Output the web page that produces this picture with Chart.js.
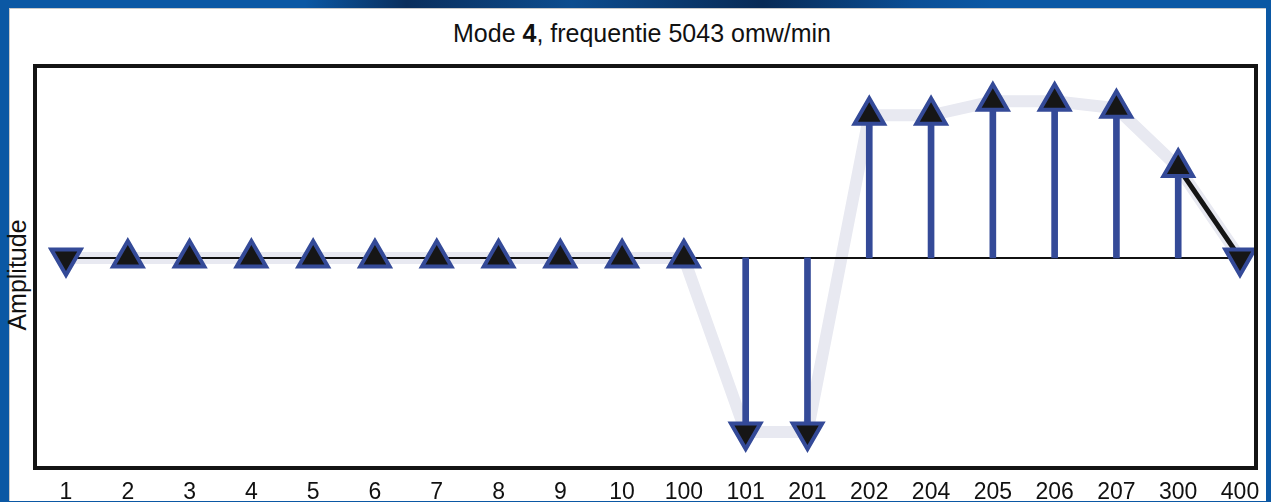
<!DOCTYPE html>
<html>
<head>
<meta charset="utf-8">
<script src="https://cdn.jsdelivr.net/npm/chart.js@4.4.1/dist/chart.umd.min.js"></script>
<style>
  html, body { margin: 0; padding: 0; }
  body { width: 1271px; height: 502px; position: relative; overflow: hidden;
         background: #0b58a4; font-family: "Liberation Sans", Arial, sans-serif; }
  #topband { position: absolute; left: 0; top: 0; width: 1271px; height: 8px;
             background: linear-gradient(90deg, #0b58a4 0%, #0b58a4 24%, #0a2e5c 32%, #0d4d8f 45%, #082a55 60%, #0b4f96 72%, #0b58a4 78%, #0b58a4 100%); }
  #panel { position: absolute; left: 9px; top: 8px; width: 1257px; height: 493px;
           background: #ffffff; box-shadow: inset 1px 1px 0 #c9c9c9; }
  #title { position: absolute; left: 0; width: 1284px; top: 21px; text-align: center;
           font-size: 25px; line-height: 25px; color: #111; white-space: nowrap; }
  #ylabel { position: absolute; left: 17px; top: 275px; font-size: 25px; line-height: 25px;
            color: #111; white-space: nowrap; transform: translate(-50%, -50%) rotate(-90deg); }
  #c { position: absolute; left: 0; top: 0; }
</style>
</head>
<body>
<div id="topband"></div>
<div id="panel"></div>
<div id="title">Mode <b>4</b>, frequentie 5043 omw/min</div>
<div id="ylabel">Amplitude</div>
<canvas id="c" width="1271" height="502"></canvas>
<script>
// ---- data ----
const categories = ['1','2','3','4','5','6','7','8','9','10','100','101','201','202','204','205','206','207','300','400'];
const amplitude  = [0, 0, 0, 0, 0, 0, 0, 0, 0, 0, 0, -1.0, -1.0, 0.82, 0.82, 0.90, 0.90, 0.86, 0.52, 0];
const direction  = ['down','up','up','up','up','up','up','up','up','up','up','down','down','up','up','up','up','up','up','down'];
const highlightSegment = ['300','400'];
const yMin = -1.207, yMax = 1.103;

// ---- derived ----
const baseline = amplitude.map(() => 0);
const segData = amplitude.map((v, i) => highlightSegment.includes(categories[i]) ? v : null);
const rotations = direction.map(d => d === 'down' ? 180 : 0);

// plot frame extends beyond first/last category
const frameExtra = { left: 31, right: 16 };
const boxPlugin = {
  id: 'box',
  afterDraw(chart) {
    const { ctx, chartArea: a } = chart;
    ctx.save();
    ctx.strokeStyle = '#141414';
    ctx.lineWidth = 4;
    const l = a.left - frameExtra.left, r = a.right + frameExtra.right;
    ctx.strokeRect(l, a.top, r - l, a.bottom - a.top);
    ctx.restore();
  }
};

new Chart(document.getElementById('c'), {
  data: {
    labels: categories,
    datasets: [
      { type: 'line', data: amplitude, borderColor: '#e8e9f1', borderWidth: 12,
        pointRadius: 0, tension: 0, order: 5, borderJoinStyle: 'round', clip: false },
      { type: 'line', data: baseline, borderColor: '#111111', borderWidth: 2,
        pointRadius: 0, tension: 0, order: 4, clip: false },
      { type: 'line', data: segData, borderColor: '#141414', borderWidth: 5,
        pointRadius: 0, tension: 0, order: 3, spanGaps: false, clip: false },
      { type: 'bar', data: amplitude, backgroundColor: '#344a98', barThickness: 6,
        borderWidth: 0, order: 2, clip: false },
      { type: 'line', data: amplitude, showLine: false, pointStyle: 'triangle',
        pointRadius: 17, pointRotation: rotations, pointBackgroundColor: '#161616',
        pointBorderColor: '#344a98', pointBorderWidth: 4, order: 1, clip: false }
    ]
  },
  options: {
    responsive: false,
    animation: false,
    events: [],
    layout: { padding: { left: 66, top: 66, right: 31, bottom: 0 } },
    plugins: { legend: { display: false }, tooltip: { enabled: false }, title: { display: false } },
    scales: {
      x: {
        type: 'category', offset: false,
        grid: { display: false, drawTicks: false },
        border: { display: false },
        ticks: { color: '#111', font: { family: '"Liberation Sans", Arial, sans-serif', size: 23 },
                 padding: 11, maxRotation: 0, autoSkip: false },
        afterFit(s) { s.height = 34; }
      },
      y: {
        min: yMin, max: yMax,
        grid: { display: false, drawTicks: false },
        border: { display: false },
        ticks: { display: false },
        afterFit(s) { s.width = 0; }
      }
    }
  },
  plugins: [boxPlugin]
});
</script>
</body>
</html>
